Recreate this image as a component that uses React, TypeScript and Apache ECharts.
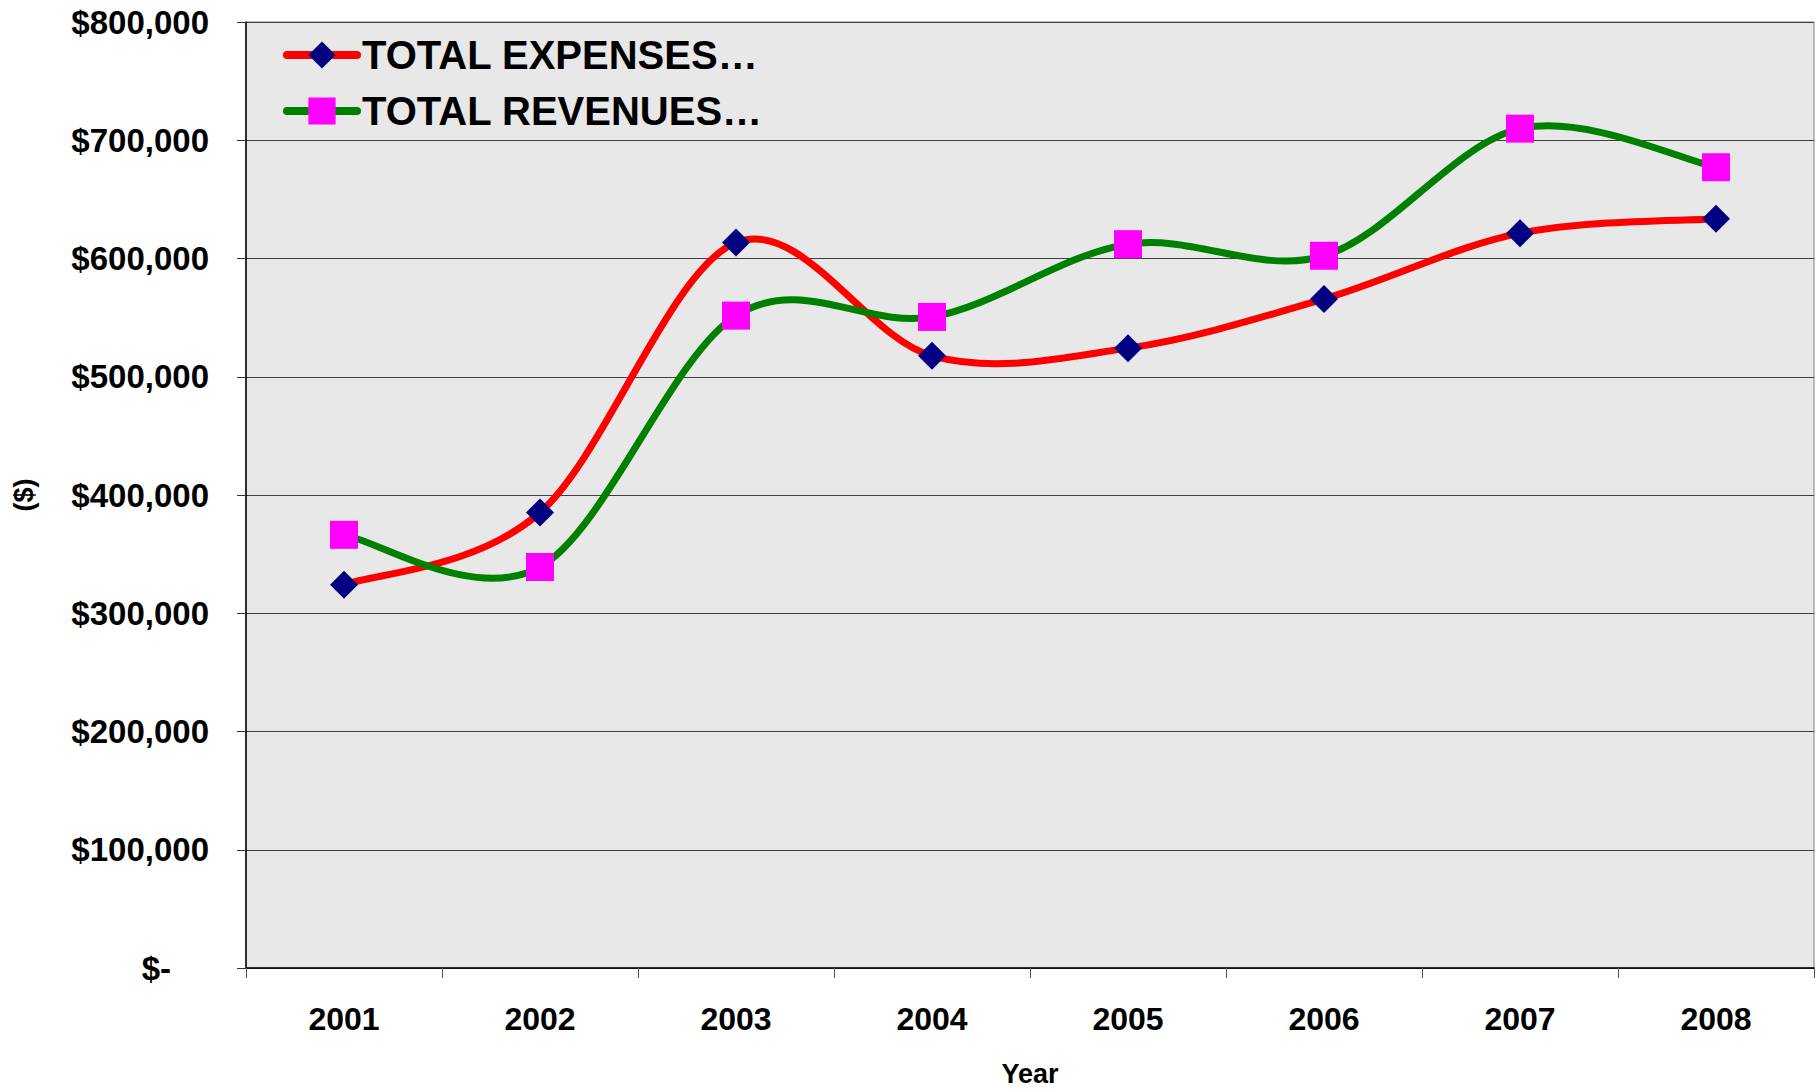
import React, { useEffect, useRef } from "react";
import * as echarts from "echarts";

const years = ["2001", "2002", "2003", "2004", "2005", "2006", "2007", "2008"];
const expenses = [324000, 385200, 613500, 517700, 524200, 565800, 621400, 633700];
const revenues = [366300, 339100, 551700, 550600, 612100, 602300, 709800, 677200];
const seriesNames = ["TOTAL EXPENSES…", "TOTAL REVENUES…"];

const FONT = "'Liberation Sans', Arial, sans-serif";

// Excel-like smoothed curve: Catmull-Rom segments (control points at 1/6 of neighbour span),
// drawn through the chart's own scales via api.coord.
function makeCurveRenderer(values: number[], color: string) {
  return (params: any, api: any) => {
    const i = params.dataIndex;
    const n = values.length;
    if (i >= n - 1) return { type: "group", children: [] };
    const pt = (k: number) => {
      const kk = Math.max(0, Math.min(n - 1, k));
      return api.coord([kk, values[kk]]);
    };
    const p0 = pt(i - 1);
    const p1 = pt(i);
    const p2 = pt(i + 1);
    const p3 = pt(i + 2);
    return {
      type: "bezierCurve",
      shape: {
        x1: p1[0],
        y1: p1[1],
        x2: p2[0],
        y2: p2[1],
        cpx1: p1[0] + (p2[0] - p0[0]) / 6,
        cpy1: p1[1] + (p2[1] - p0[1]) / 6,
        cpx2: p2[0] - (p3[0] - p1[0]) / 6,
        cpy2: p2[1] - (p3[1] - p1[1]) / 6,
      },
      style: { stroke: color, lineWidth: 7, fill: "none", lineCap: "round" },
    };
  };
}

export default function App() {
  const ref = useRef<HTMLDivElement>(null);
  useEffect(() => {
    if (!ref.current) return;
    const chart = echarts.init(ref.current, undefined, { renderer: "svg" });
    chart.setOption({
      animation: false,
      backgroundColor: "#ffffff",
      textStyle: { fontFamily: FONT },
      grid: {
        left: 246,
        right: 4,
        top: 22,
        bottom: 117,
        show: true,
        backgroundColor: "#e8e8e8",
        borderColor: "#808080",
        borderWidth: 1,
      },
      legend: {
        orient: "vertical",
        left: 283,
        top: 35,
        padding: 0,
        itemWidth: 70,
        itemHeight: 34,
        itemGap: 16,
        lineStyle: { width: 8, cap: "round" },
        textStyle: {
          fontFamily: FONT,
          fontWeight: "bold",
          fontSize: 40,
          lineHeight: 34,
          color: "#000",
        },
        data: seriesNames,
      },
      xAxis: {
        type: "category",
        data: years,
        boundaryGap: true,
        name: "Year",
        nameLocation: "middle",
        nameGap: 92,
        nameTextStyle: { fontFamily: FONT, fontWeight: "bold", fontSize: 27, color: "#000" },
        axisLine: { lineStyle: { color: "#000", width: 1.5 } },
        axisTick: { show: true, length: 10, lineStyle: { color: "#555" } },
        axisLabel: {
          fontFamily: FONT,
          fontWeight: "bold",
          fontSize: 32,
          color: "#000",
          margin: 35,
        },
      },
      yAxis: {
        type: "value",
        min: 0,
        max: 800000,
        interval: 100000,
        name: "($)",
        nameLocation: "middle",
        nameRotate: 90,
        nameGap: 209,
        nameTextStyle: { fontFamily: FONT, fontWeight: "bold", fontSize: 27, color: "#000" },
        axisLine: { show: true, lineStyle: { color: "#000", width: 1.5 } },
        axisTick: { show: true, length: 9, lineStyle: { color: "#333" } },
        splitLine: { show: true, lineStyle: { color: "#404040", width: 1 } },
        axisLabel: {
          fontFamily: FONT,
          fontWeight: "bold",
          fontSize: 33,
          color: "#000",
          margin: 37,
          formatter: (v: number) =>
            v === 0 ? "{z|$-}" : "$" + v.toLocaleString("en-US"),
          rich: {
            z: {
              fontFamily: FONT,
              fontWeight: "bold",
              fontSize: 33,
              color: "#000",
              padding: [0, 38, 0, 0],
            },
          },
        },
      },
      series: [
        {
          name: "expensesCurve",
          type: "custom",
          z: 1,
          data: expenses.map((v, i) => [i, v]),
          encode: { x: 0, y: 1 },
          renderItem: makeCurveRenderer(expenses, "#ff0000"),
        },
        {
          name: "revenuesCurve",
          type: "custom",
          z: 1,
          data: revenues.map((v, i) => [i, v]),
          encode: { x: 0, y: 1 },
          renderItem: makeCurveRenderer(revenues, "#008000"),
        },
        {
          name: seriesNames[0],
          type: "line",
          z: 3,
          data: expenses,
          symbol: "diamond",
          symbolSize: 28,
          lineStyle: { color: "#ff0000", width: 0 },
          itemStyle: { color: "#000080" },
        },
        {
          name: seriesNames[1],
          type: "line",
          z: 3,
          data: revenues,
          symbol: "rect",
          symbolSize: 28,
          lineStyle: { color: "#008000", width: 0 },
          itemStyle: { color: "#ff00ff" },
        },
      ],
    });
    return () => chart.dispose();
  }, []);
  return (
    <div
      ref={ref}
      style={{ position: "fixed", left: 0, top: 0, width: 1818, height: 1092, background: "#fff" }}
    />
  );
}
